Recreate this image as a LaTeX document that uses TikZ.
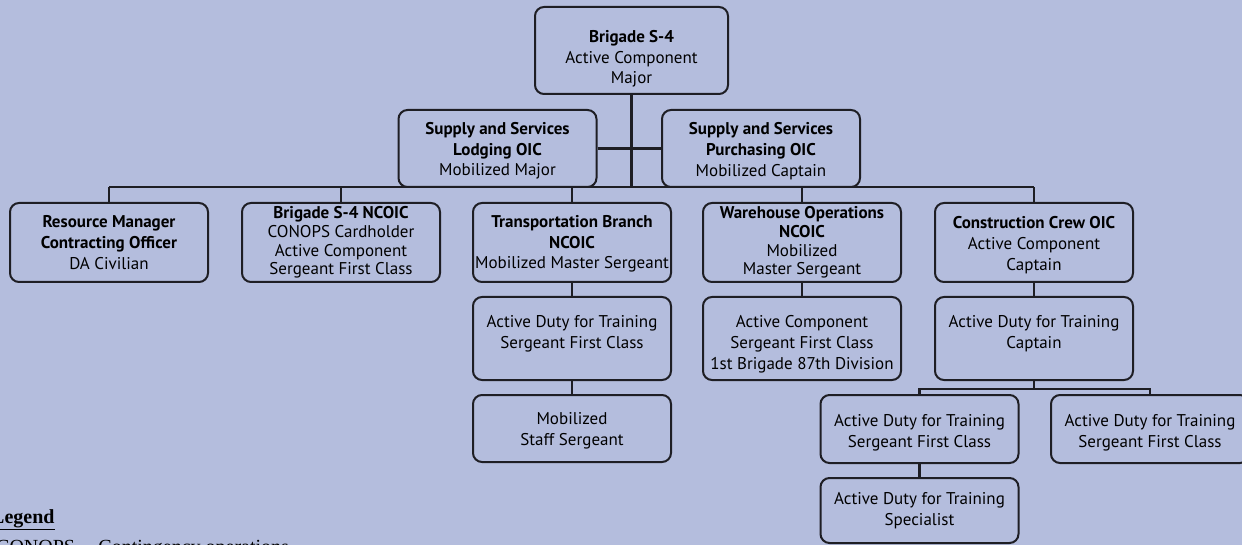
\documentclass[tikz,border=0pt]{standalone}
\usepackage{fontspec}
\setmainfont{PT Sans}
\newfontfamily\legendfont{Liberation Serif}
\usepackage{tikz}
\usetikzlibrary{positioning}
\definecolor{chartbg}{RGB}{180,189,221}
\definecolor{chartline}{RGB}{30,30,36}
\tikzset{
  post/.style={draw=chartline, line width=2pt, rounded corners=9pt, fill=chartbg,
    align=center, inner sep=0pt, minimum width=198pt,
    font=\fontsize{17}{20.8}\selectfont},
  tight/.style={font=\fontsize{17}{18.7}\selectfont},
  textdrop/.style={text height=#1},
  link/.style={draw=chartline, line width=2.2pt},
  legendtext/.style={anchor=base west, inner sep=0pt, font=\legendfont\fontsize{20}{24}\selectfont},
}

\begin{document}
\begin{tikzpicture}[x=1pt,y=-1pt]
\useasboundingbox (0,0) rectangle (1242,545);
\fill[chartbg] (0,0) rectangle (1242,545);
\coordinate (bus) at (0,187);
\coordinate (subbus) at (0,389);
\node[post, textdrop=70.5pt, minimum width=193pt, minimum height=87pt] (brig) at (631.5,50.5) {\textbf{Brigade S-4}\\Active Component\\Major};
\node[post, textdrop=58.5pt, minimum height=77pt] (lodg) at (497.5,148.5) {\textbf{Supply and Services}\\\textbf{Lodging OIC}\\Mobilized Major};
\node[post, textdrop=58.5pt, minimum height=77pt] (purch) at (761,148.5) {\textbf{Supply and Services}\\\textbf{Purchasing OIC}\\Mobilized Captain};
\node[post, minimum height=79pt] (res) at (109,242.5) {\textbf{Resource Manager}\\\textbf{Contracting Officer}\\DA Civilian};
\node[post, tight, minimum height=79pt] (ncoic) at (341,242.5) {\textbf{Brigade S-4 NCOIC}\\CONOPS Cardholder\\Active Component\\Sergeant First Class};
\node[post, textdrop=56.5pt, minimum height=79pt] (trans) at (572,242.5) {\textbf{Transportation Branch}\\\textbf{NCOIC}\\Mobilized Master Sergeant};
\node[post, tight, minimum height=79pt] (ware) at (802,242.5) {\textbf{Warehouse Operations}\\\textbf{NCOIC}\\Mobilized\\Master Sergeant};
\node[post, textdrop=59.5pt, minimum height=79pt] (con) at (1034,242.5) {\textbf{Construction Crew OIC}\\Active Component\\Captain};
\node[post, textdrop=67.5pt, minimum height=83pt] (transA) at (572,338.5) {Active Duty for Training\\Sergeant First Class\\\strut};
\node[post, textdrop=65.5pt, minimum height=83pt] (wareA) at (802,338.5) {Active Component\\Sergeant First Class\\1st Brigade 87th Division};
\node[post, textdrop=67.5pt, minimum height=83pt] (conA) at (1034,338.5) {Active Duty for Training\\Captain\\\strut};
\node[post, textdrop=37.7pt, minimum height=67pt] (transB) at (572,428.5) {Mobilized\\Staff Sergeant};
\node[post, textdrop=39.7pt, minimum height=68pt] (conB1) at (919.5,429) {Active Duty for Training\\Sergeant First Class};
\node[post, textdrop=39.7pt, minimum height=68pt] (conB2) at (1150,429) {Active Duty for Training\\Sergeant First Class};
\node[post, minimum height=65pt] (conC) at (919.5,510.5) {Active Duty for Training\\Specialist};
\draw[link] (brig.south) -- (brig.south |- bus);
\draw[link] (lodg.east) -- (purch.west);
\draw[link] (res.north |- bus) -- (con.north |- bus);
\foreach \n in {res,ncoic,trans,ware,con} {
\draw[link] (\n.north) -- (\n.north |- bus);
}
\draw[link] (trans.south) -- (transA.north);
\draw[link] (transA.south) -- (transB.north);
\draw[link] (ware.south) -- (wareA.north);
\draw[link] (con.south) -- (conA.north);
\draw[link] (conA.south) -- (conA.south |- subbus);
\draw[link] (conB1.north) -- (conB1.north |- subbus) -- (conB2.north |- subbus) -- (conB2.north);
\draw[link] (conB1.south) -- (conC.north);
\node[legendtext, font=\legendfont\bfseries\fontsize{20}{24}\selectfont] (legtitle) at (-9,523) {\underline{Legend}};
\node[legendtext] (legline) at (-4,553) {CONOPS -- Contingency operations};
\end{tikzpicture}
\end{document}
